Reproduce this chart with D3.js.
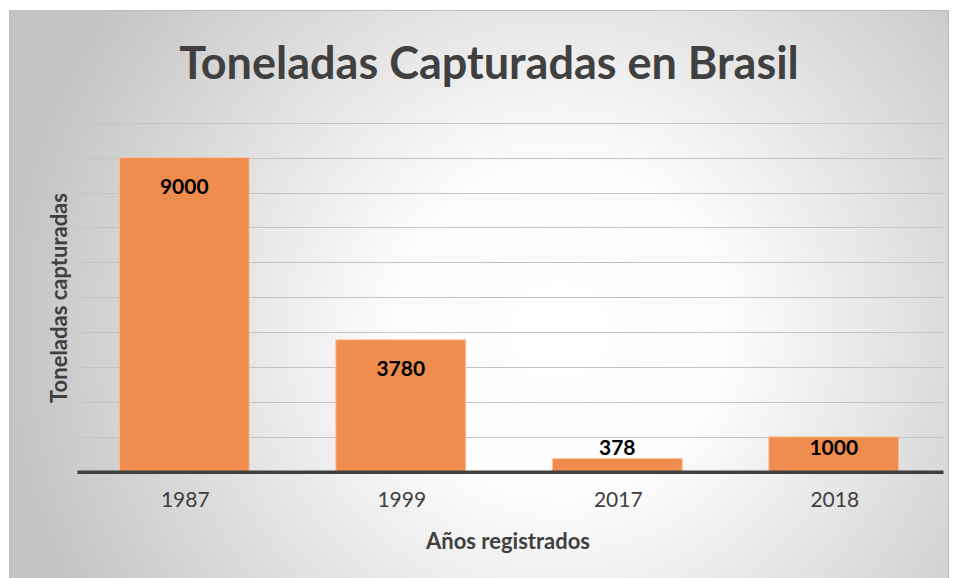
<!DOCTYPE html>
<html><head><meta charset="utf-8">
<script src="https://cdn.jsdelivr.net/npm/d3@7"></script>
<style>html,body{margin:0;padding:0;background:#fff;}svg{display:block;}</style>
</head><body>
<script>
const categories = ["1987", "1999", "2017", "2018"];
const values = [9000, 3780, 378, 1000];
const yTicks = [0, 1000, 2000, 3000, 4000, 5000, 6000, 7000, 8000, 9000, 10000];
const title = "Toneladas Capturadas en Brasil";
const xTitle = "Años registrados";
const yTitle = "Toneladas capturadas";

const W = 957, H = 578;
const svg = d3.select("body").append("svg").attr("width", W).attr("height", H);
const defs = svg.append("defs");
const rg = defs.append("radialGradient").attr("id", "bg")
  .attr("gradientUnits", "userSpaceOnUse")
  .attr("cx", 560).attr("cy", 330).attr("r", 560);
rg.append("stop").attr("offset", "0%").attr("stop-color", "#ffffff");
rg.append("stop").attr("offset", "30%").attr("stop-color", "#fcfcfc");
rg.append("stop").attr("offset", "100%").attr("stop-color", "#c3c3c3");

svg.append("rect").attr("x", 9.5).attr("y", 10.5).attr("width", 939).attr("height", 570)
  .attr("fill", "url(#bg)").attr("stroke", "#bdbdbd").attr("stroke-width", 1);

const m = {left: 77, right: 943, top: 122.7, bottom: 471.7};
const x = d3.scaleBand().domain(categories).range([m.left, m.right]).paddingInner(0.4).paddingOuter(0.2);
const y = d3.scaleLinear().domain([0, 10000]).range([m.bottom, m.top]);

const font = "Lato, 'Open Sans', sans-serif";

// gridlines
svg.append("g").selectAll("line").data(yTicks.filter(d => d > 0)).join("line")
  .attr("x1", m.left).attr("x2", m.right)
  .attr("y1", d => Math.round(y(d)) + 0.5).attr("y2", d => Math.round(y(d)) + 0.5)
  .attr("stroke", "#c4c4c4").attr("stroke-width", 1);

// bars
svg.append("g").selectAll("rect").data(values).join("rect")
  .attr("x", (d, i) => x(categories[i]) - 1)
  .attr("y", d => y(d))
  .attr("width", x.bandwidth())
  .attr("height", d => y(0) - y(d))
  .attr("fill", "#ee8d4d")
  .attr("stroke", "#f7c7a6").attr("stroke-width", 1);

// axis line
const xAxis = d3.axisBottom(x).tickSize(0).tickPadding(20);
const gx = svg.append("g").attr("transform", `translate(0,${y(0)})`).call(xAxis);
gx.select(".domain").attr("stroke", "#404040").attr("stroke-width", 3.5);
gx.selectAll("text").attr("font-family", font).attr("font-size", 21)
  .attr("fill", "#404040").attr("dy", "0.71em");

// data labels
svg.append("g").selectAll("text").data(values).join("text")
  .attr("x", (d, i) => x(categories[i]) + x.bandwidth() / 2 - 1)
  .attr("y", d => Math.min(y(d) + 29, y(0) - 24))
  .attr("dy", "0.35em")
  .attr("text-anchor", "middle")
  .attr("font-family", font).attr("font-weight", "bold").attr("font-size", 21)
  .attr("fill", "#000")
  .text(d => d);

// title
svg.append("text").attr("x", 489).attr("y", 79).attr("text-anchor", "middle")
  .attr("font-family", font).attr("font-weight", "bold").attr("font-size", 45)
  .attr("fill", "#404040").text(title);

// axis titles
svg.append("text").attr("x", 508).attr("y", 549).attr("text-anchor", "middle")
  .attr("font-family", font).attr("font-weight", "bold").attr("font-size", 22)
  .attr("fill", "#404040").text(xTitle);
svg.append("text").attr("transform", "translate(67,298) rotate(-90)").attr("text-anchor", "middle")
  .attr("font-family", font).attr("font-weight", "bold").attr("font-size", 22)
  .attr("fill", "#404040").text(yTitle);
</script>
</body></html>
